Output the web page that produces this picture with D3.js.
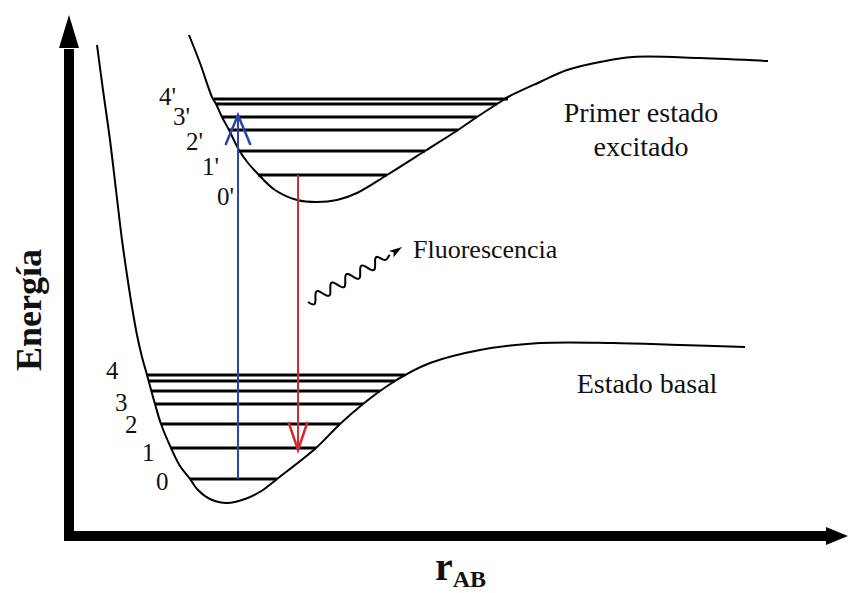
<!DOCTYPE html>
<html>
<head>
<meta charset="utf-8">
<script src="https://cdn.jsdelivr.net/npm/d3@7"></script>
<style>
  html, body { margin: 0; padding: 0; background: #fff; }
  svg { display: block; }
  text { font-family: "Liberation Serif", "Times New Roman", serif; fill: #111; }
</style>
</head>
<body>
<svg id="chart" width="849" height="593"></svg>
<script>
// Potential energy curves (r, E) in arbitrary units
const groundCurve = [
  [28,491],[34,446],[41,396],[47,346],[53,296],[58,261],[63,229],[68,201],[73,179],
  [78,161],[86,132],[92,112],[102,88],[111,70],[121,57],[129,46],[141,37],[158,33],
  [176,37],[194,46],[208,57],[247,88],[271,112],[294,132],[311,145],[326,155],
  [336,161],[361,173],[411,186],[471,193],[544,193],[611,191],[676,189]
];
const excitedCurve = [
  [120,501],[131,473],[143,439],[147,432],[153,419],[160,406],[170,386],[179,373],
  [189,362],[206,346],[228,336],[248,334],[268,336],[288,343],[318,361],[356,385],
  [389,406],[408,419],[428,432],[439,439],[471,454],[498,466],[531,474],[564,479],
  [631,478],[699,475]
];

// Vibrational levels: energy and left/right turning points
const groundLevelE  = [57, 88, 112, 132, 145, 155, 161];
const groundLevelR0 = [121, 102, 92, 86, 82, 80, 78];
const groundLevelR1 = [208, 247, 271, 294, 311, 326, 336];

const excitedLevelE  = [361, 385, 406, 419, 432, 437];
const excitedLevelR0 = [189, 170, 160, 153, 147, 145];
const excitedLevelR1 = [318, 356, 389, 408, 428, 439];

// Level labels and their anchors (r, E)
const groundLabels = ["0", "1", "2", "3", "4"];
const groundLabelR = [87, 73, 56, 46, 37];
const groundLabelE = [46, 75, 103, 125, 157];

const excitedLabels = ["0'", "1'", "2'", "3'", "4'"];
const excitedLabelR = [148, 133, 117, 104, 90];
const excitedLabelE = [331, 361, 386, 411, 431];

// Transitions: absorption (blue) and emission (red)
const absorption = { r: 169, from: 57, to: 421 };
const emission   = { r: 229, from: 361, to: 86 };

// Emitted photon squiggle
const photonStart = [239, 234];
const photonEnd   = [321, 281];
const photonTip   = [333, 289];

const svg = d3.select("#chart");
const x = d3.scaleLinear().domain([0, 780]).range([69, 849]);
const y = d3.scaleLinear().domain([0, 521]).range([536, 15]);

// Axes drawn as heavy arrows
const ax = svg.append("g");
ax.append("line")
  .attr("x1", x(0)).attr("y1", y(-5)).attr("x2", x(0)).attr("y2", y(487))
  .attr("stroke", "#000").attr("stroke-width", 10);
ax.append("path")
  .attr("d", `M${x(0)},${y(521)} L${x(0) - 10},${y(488)} L${x(0) + 10},${y(488)} Z`)
  .attr("fill", "#000");
ax.append("line")
  .attr("x1", x(-5)).attr("y1", y(0)).attr("x2", x(758)).attr("y2", y(0))
  .attr("stroke", "#000").attr("stroke-width", 10);
ax.append("path")
  .attr("d", `M${x(779)},${y(0)} L${x(757)},${y(0) - 9} L${x(757)},${y(0) + 9} Z`)
  .attr("fill", "#000");

// Potential curves
const line = d3.line().x(d => x(d[0])).y(d => y(d[1])).curve(d3.curveCatmullRom.alpha(0.5));
svg.append("path").attr("d", line(groundCurve))
  .attr("fill", "none").attr("stroke", "#000").attr("stroke-width", 2);
svg.append("path").attr("d", line(excitedCurve))
  .attr("fill", "none").attr("stroke", "#000").attr("stroke-width", 2);

// Vibrational levels
function levels(E, R0, R1) {
  svg.append("g").selectAll("line").data(E).join("line")
    .attr("x1", (d, i) => x(R0[i])).attr("x2", (d, i) => x(R1[i]))
    .attr("y1", d => y(d)).attr("y2", d => y(d))
    .attr("stroke", "#000").attr("stroke-width", 3);
}
levels(groundLevelE, groundLevelR0, groundLevelR1);
levels(excitedLevelE, excitedLevelR0, excitedLevelR1);

// Level labels
function labels(txt, R, E) {
  svg.append("g").selectAll("text").data(txt).join("text")
    .attr("x", (d, i) => x(R[i])).attr("y", (d, i) => y(E[i]))
    .attr("font-size", 25).text(d => d);
}
labels(groundLabels, groundLabelR, groundLabelE);
labels(excitedLabels, excitedLabelR, excitedLabelE);

// Vertical transition arrows with open heads
function transition(t, color, headLen, headHalf) {
  const dir = t.to > t.from ? 1 : -1;
  const g = svg.append("g").attr("stroke", color).attr("fill", "none");
  g.append("line")
    .attr("x1", x(t.r)).attr("x2", x(t.r))
    .attr("y1", y(t.from)).attr("y2", y(t.to))
    .attr("stroke-width", 2);
  const tx = x(t.r), ty = y(t.to);
  g.append("path")
    .attr("d", `M${tx - headHalf},${ty + dir * headLen} L${tx},${ty} L${tx + headHalf},${ty + dir * headLen}`)
    .attr("stroke-width", 2.5);
}
transition(absorption, "#2a44a8", 30, 12.5);
transition(emission, "#d12a30", 28, 9.5);

// Photon squiggle
(function () {
  const x0 = x(photonStart[0]), y0 = y(photonStart[1]);
  const x1 = x(photonEnd[0]),   y1 = y(photonEnd[1]);
  const dx = x1 - x0, dy = y1 - y0, L = Math.hypot(dx, dy);
  const ux = dx / L, uy = dy / L, nx = -uy, ny = ux;
  const waves = 5.5, amp = 5, pts = [];
  for (let s = 0; s <= 200; s++) {
    const t = s / 200;
    const off = amp * Math.sin(t * waves * 2 * Math.PI) * Math.min(1, (1 - t) * 8);
    pts.push([x0 + ux * L * t + nx * off, y0 + uy * L * t + ny * off]);
  }
  svg.append("path").attr("d", d3.line()(pts))
    .attr("fill", "none").attr("stroke", "#000").attr("stroke-width", 2);
  const tx = x(photonTip[0]), ty = y(photonTip[1]);
  const hx = tx - x1, hy = ty - y1, hl = Math.hypot(hx, hy);
  const bx = tx - (hx / hl) * 13, by = ty - (hy / hl) * 13;
  svg.append("path")
    .attr("d", `M${tx},${ty} L${bx - hy / hl * 4},${by + hx / hl * 4} L${bx + 3 * hx / hl},${by + 3 * hy / hl} L${bx + hy / hl * 4},${by - hx / hl * 4} Z`)
    .attr("fill", "#000");
})();

// State and process annotations
svg.append("text").attr("x", 413).attr("y", 258).attr("font-size", 26).text("Fluorescencia");
svg.append("text").attr("x", 641).attr("y", 122).attr("font-size", 28)
  .attr("text-anchor", "middle").text("Primer estado");
svg.append("text").attr("x", 641).attr("y", 156).attr("font-size", 28)
  .attr("text-anchor", "middle").text("excitado");
svg.append("text").attr("x", 647).attr("y", 393).attr("font-size", 28)
  .attr("text-anchor", "middle").text("Estado basal");

// Axis titles
svg.append("text")
  .attr("transform", "translate(41,310) rotate(-90)")
  .attr("text-anchor", "middle").attr("font-size", 36).attr("font-weight", "bold")
  .text("Energía");
const rt = svg.append("text").attr("x", 435).attr("y", 580)
  .attr("font-weight", "bold").attr("font-size", 40);
rt.append("tspan").text("r");
rt.append("tspan").attr("font-size", 24).attr("dy", 7).text("AB");
</script>
</body>
</html>
